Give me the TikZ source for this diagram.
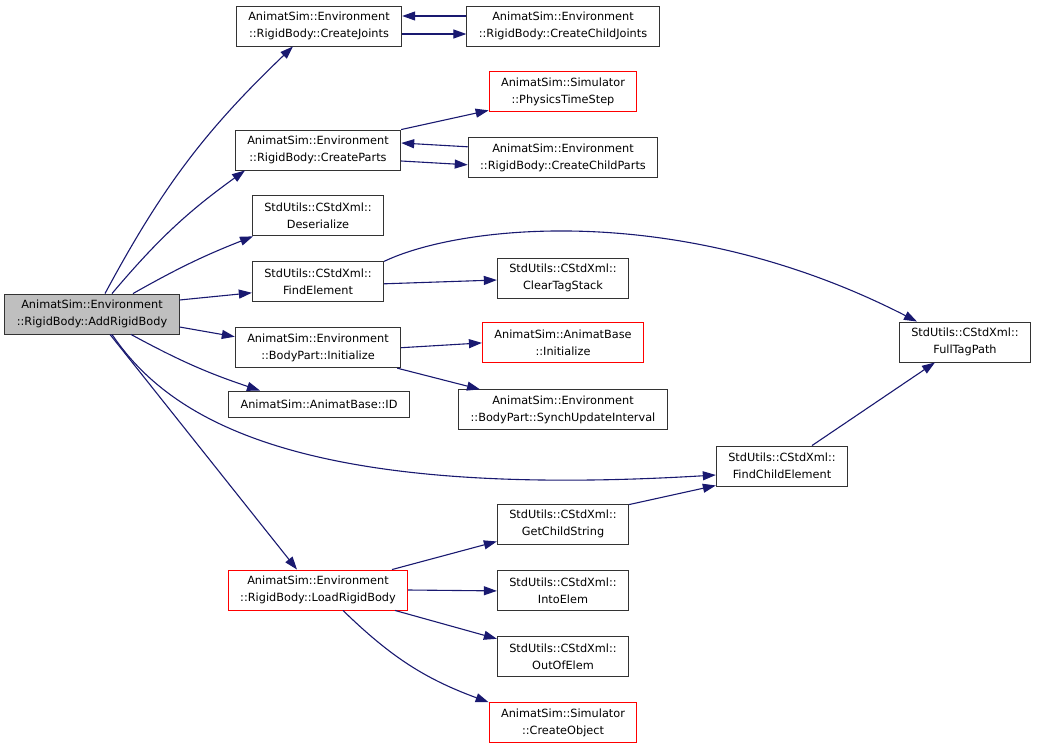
\documentclass[tikz,border=0pt]{standalone}
\usepackage{fontspec}
\setmainfont{DejaVu Sans}
\usepackage{tikz}
\usetikzlibrary{positioning, arrows.meta}
\definecolor{callblue}{HTML}{191970}
\definecolor{rootgray}{HTML}{BFBFBF}

\begin{document}
\begin{tikzpicture}[->,>={Triangle[length=13pt,width=9pt]},x=1pt,y=-1pt,
font=\fontsize{11.3}{17}\selectfont]
  \tikzstyle{fn}=[rectangle,draw=black!80,fill=white,line width=0.9pt,align=center,
    minimum height=40pt,inner xsep=12pt]
  \tikzstyle{undoc}=[fn,draw=red]
  \tikzstyle{root}=[fn,fill=rootgray]
  \tikzstyle{call}=[draw=callblue,line width=1.1pt]
  \useasboundingbox (0,0) rectangle (1039,747);

\node[root] (add) at (92,314) {AnimatSim::Environment\\::RigidBody::AddRigidBody};
  \node[fn] (joints) at (319,26) {AnimatSim::Environment\\::RigidBody::CreateJoints};
  \node[fn] (parts) at (318,150) {AnimatSim::Environment\\::RigidBody::CreateParts};
  \node[fn] (deser) [below=25pt of parts] {StdUtils::CStdXml::\\Deserialize};
  \node[fn] (find) [below=25pt of deser] {StdUtils::CStdXml::\\FindElement};
  \node[fn] (init) [below=25pt of find] {AnimatSim::Environment\\::BodyPart::Initialize};
  \node[fn, minimum height=26pt] (id) at (319,404) {AnimatSim::AnimatBase::ID};
  \node[undoc] (load) at (318,590) {AnimatSim::Environment\\::RigidBody::LoadRigidBody};
  \node[fn] (childjoints) at (563,26) {AnimatSim::Environment\\::RigidBody::CreateChildJoints};
  \node[undoc] (physics) [below=25pt of childjoints] {AnimatSim::Simulator\\::PhysicsTimeStep};
  \node[fn] (childparts) [below=25pt of physics] {AnimatSim::Environment\\::RigidBody::CreateChildParts};
  \node[fn] (cleartag) at (563,278) {StdUtils::CStdXml::\\ClearTagStack};
  \node[undoc] (abinit) [below=24pt of cleartag] {AnimatSim::AnimatBase\\::Initialize};
  \node[fn] (synch) [below=26pt of abinit] {AnimatSim::Environment\\::BodyPart::SynchUpdateInterval};
  \node[fn] (getchild) at (563,524) {StdUtils::CStdXml::\\GetChildString};
  \node[fn] (into) [below=26pt of getchild] {StdUtils::CStdXml::\\IntoElem};
  \node[fn] (outof) [below=25pt of into] {StdUtils::CStdXml::\\OutOfElem};
  \node[undoc] (createobj) [below=25pt of outof] {AnimatSim::Simulator\\::CreateObject};
  \node[fn] (findchild) at (782,466) {StdUtils::CStdXml::\\FindChildElement};
  \node[fn] (fulltag) at (965,342) {StdUtils::CStdXml::\\FullTagPath};

 \path[every edge/.style={call}]
        ([xshift=13pt]add.north) edge[bend left=9] ([xshift=-26pt]joints.south)
        ([xshift=20pt]add.north) edge[bend left=7] ([xshift=-73pt]parts.south)
        ([xshift=41pt]add.north) edge[bend left=4] ([xshift=-65pt]deser.south)
        ([yshift=14pt]add.east) edge ([yshift=-11pt]find.west)
        ([yshift=-13pt]add.east) edge ([yshift=11pt]init.west)
        ([xshift=39pt]add.south) edge[bend right=5] ([xshift=-59pt]id.north)
        ([xshift=18pt]add.south) edge ([xshift=-21pt]load.north)
        ([yshift=-8pt]joints.east) edge ([yshift=-8pt]childjoints.west)
        ([yshift=10pt]childjoints.west) edge ([yshift=10pt]joints.east)
        (parts.north east) edge ([yshift=2pt]physics.south west)
        ([yshift=-11pt]parts.east) edge ([yshift=-7pt]childparts.west)
        ([yshift=11pt]childparts.west) edge ([yshift=7pt]parts.east)
        ([yshift=-2pt]find.east) edge ([yshift=-2pt]cleartag.west)
        (init.east) edge (abinit.west)
        ([xshift=-4pt]init.south east) edge ([xshift=-83pt]synch.north)
        ([yshift=-1pt]getchild.north east) edge ([yshift=1pt]findchild.south west)
        ([xshift=30pt]findchild.north) edge ([xshift=-30pt]fulltag.south)
        ([xshift=74pt]load.north) edge ([yshift=3pt]getchild.south west)
        (load.east) edge (into.west)
        ([xshift=77pt]load.south) edge ([yshift=18pt]outof.west)
        ([xshift=25pt]load.south) edge[bend right=12] (createobj.north west);
 \draw[call] ([xshift=20pt]add.south) .. controls (170,420) and (300,500) .. ([yshift=-9pt]findchild.west);
 \draw[call] (find.north east) .. controls (460,225) and (680,200) .. ([xshift=-48pt]fulltag.north);
\end{tikzpicture}
\end{document}
